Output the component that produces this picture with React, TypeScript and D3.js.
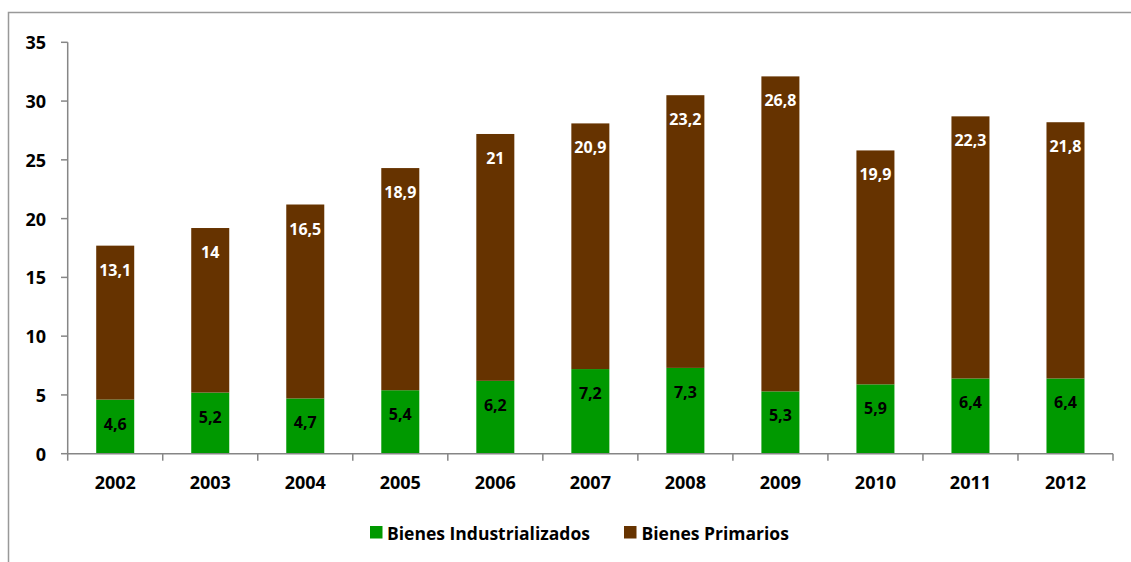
import React from "react";
import * as d3 from "d3";

const years = ["2002","2003","2004","2005","2006","2007","2008","2009","2010","2011","2012"];
const industrializados = [4.6,5.2,4.7,5.4,6.2,7.2,7.3,5.3,5.9,6.4,6.4];
const primarios = [13.1,14,16.5,18.9,21,20.9,23.2,26.8,19.9,22.3,21.8];
const yTicks = [0,5,10,15,20,25,30,35];
const seriesNames = ["Bienes Industrializados","Bienes Primarios"];
const seriesColors = ["#009900","#663300"];
const labelColors = ["#000000","#ffffff"];

const W = 1131, H = 562;
const FONT = "'Open Sans', sans-serif";

function fmt(v: number) {
  return String(v).replace(".", ",");
}

export default function App() {
  const x = d3.scaleBand<string>().domain(years).range([67.7, 1113]).paddingInner(0.6).paddingOuter(0.3);
  const xb = d3.scaleBand<string>().domain(years).range([67.7, 1113]);
  const y = d3.scaleLinear().domain([0, 35]).range([453.7, 42.3]);

  const rows = years.map((yr, i) => ({ year: yr, ind: industrializados[i], pri: primarios[i] }));
  const stack = d3.stack<any>().keys(["ind", "pri"])(rows);

  const axisColor = "#868686";

  return (
    <svg width={W} height={H} style={{ position: "absolute", left: 0, top: 0, background: "#fff" }} fontFamily={FONT}>
      <path d={`M8.5,${H} V12.5 H${W}`} fill="none" stroke="#999" strokeWidth={1.5} />
      {/* bars */}
      {stack.map((s, si) => (
        <g key={si}>
          {s.map((d, i) => {
            const top = y(d[1]);
            const bot = y(d[0]);
            const val = si === 0 ? industrializados[i] : primarios[i];
            return (
              <g key={i}>
                <rect x={x(years[i])} y={top} width={x.bandwidth()} height={bot - top} fill={seriesColors[si]} />
                <text x={(x(years[i]) as number) + x.bandwidth() / 2} y={top + 24} textAnchor="middle" dominantBaseline="central"
                  fontSize={16} fontWeight="bold" fill={labelColors[si]}>{fmt(val)}</text>
              </g>
            );
          })}
        </g>
      ))}
      {/* y axis */}
      <line x1={67.7} x2={67.7} y1={y(35)} y2={y(0)} stroke={axisColor} strokeWidth={1.5} />
      {yTicks.map(t => (
        <g key={t}>
          <line x1={61} x2={67.7} y1={y(t)} y2={y(t)} stroke={axisColor} strokeWidth={1.5} />
          <text x={46} y={y(t)} textAnchor="end" dominantBaseline="central" fontSize={18} fontWeight="bold" fill="#000">{t}</text>
        </g>
      ))}
      {/* x axis */}
      <line x1={67.7} x2={1113} y1={y(0)} y2={y(0)} stroke={axisColor} strokeWidth={1.5} />
      {years.map((yr) => (
        <line key={"t" + yr} x1={xb(yr)} x2={xb(yr)} y1={y(0)} y2={y(0) + 7} stroke={axisColor} strokeWidth={1.5} />
      ))}
      <line x1={1113} x2={1113} y1={y(0)} y2={y(0) + 7} stroke={axisColor} strokeWidth={1.5} />
      {years.map((yr) => (
        <text key={"l" + yr} x={(xb(yr) as number) + xb.bandwidth() / 2} y={482} textAnchor="middle" dominantBaseline="central"
          fontSize={18} fontWeight="bold" fill="#000">{yr}</text>
      ))}
      {/* legend */}
      <rect x={370} y={526} width={12.5} height={12.5} fill={seriesColors[0]} />
      <text x={387} y={532.5} dominantBaseline="central" fontSize={17.5} fontWeight="bold" fill="#000">{seriesNames[0]}</text>
      <rect x={624} y={526} width={12.5} height={12.5} fill={seriesColors[1]} />
      <text x={641.5} y={532.5} dominantBaseline="central" fontSize={17.5} fontWeight="bold" fill="#000">{seriesNames[1]}</text>
    </svg>
  );
}
